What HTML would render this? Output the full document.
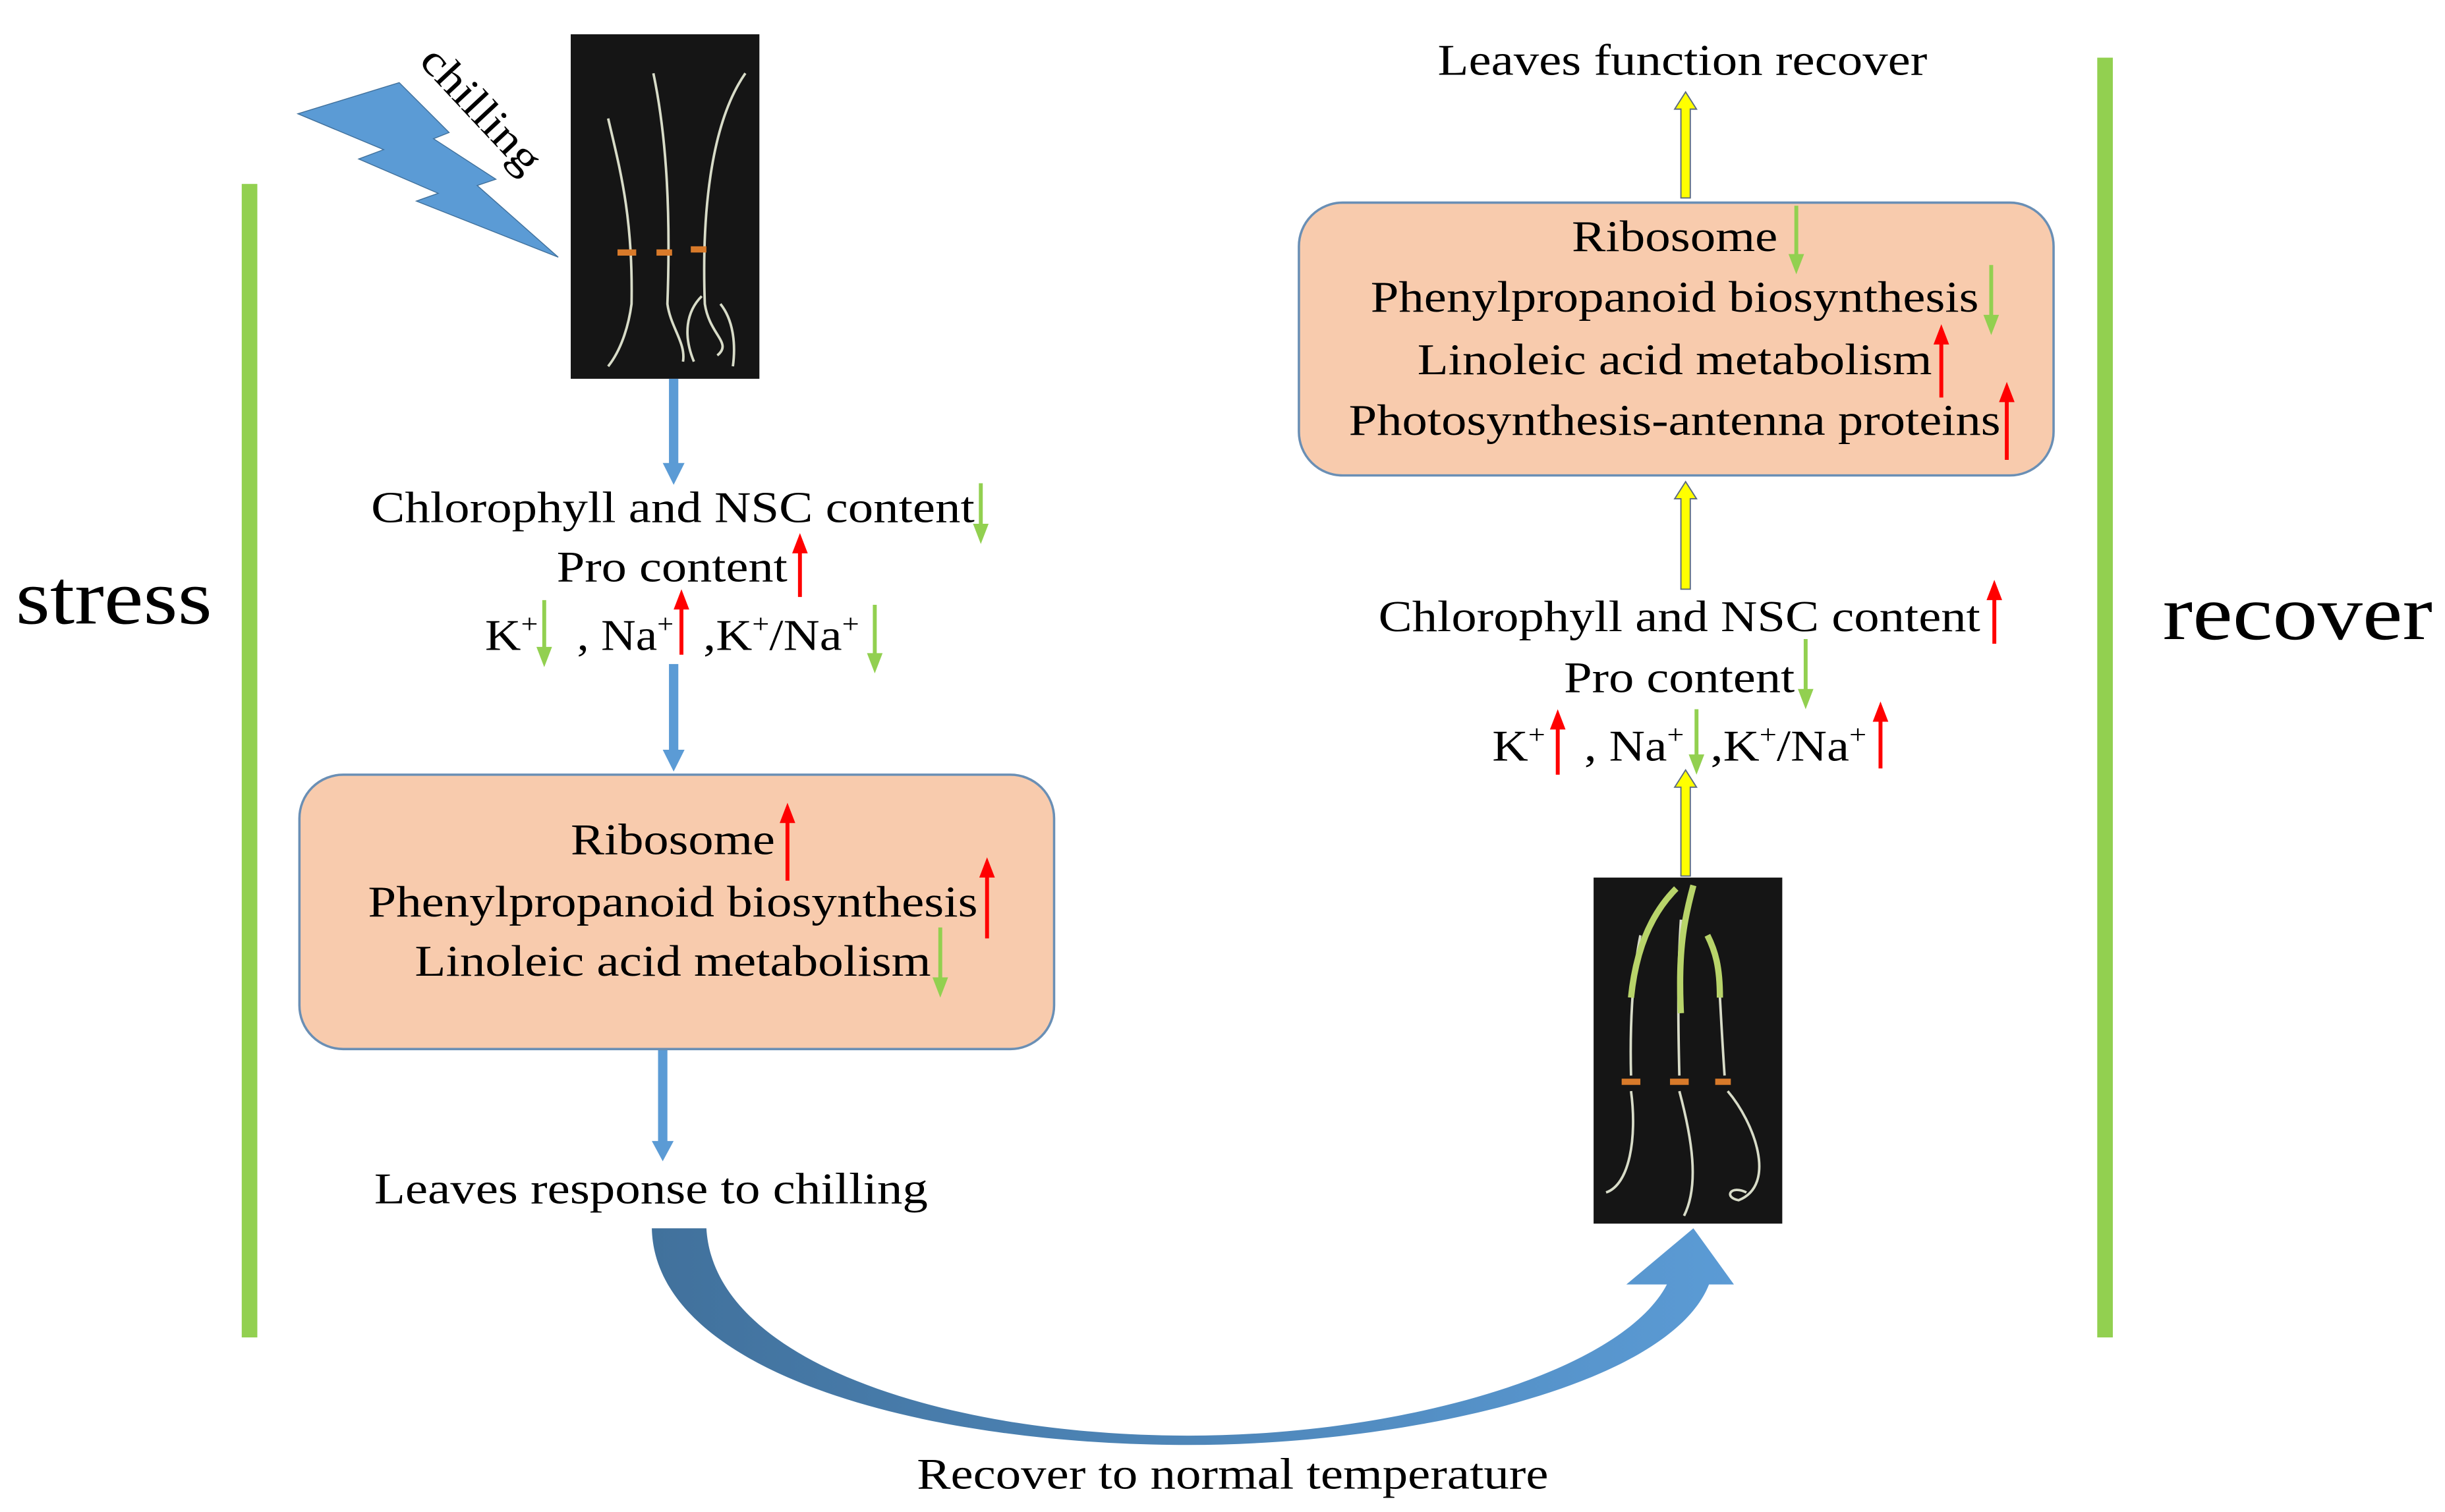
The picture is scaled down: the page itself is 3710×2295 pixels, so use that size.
<!DOCTYPE html>
<html><head><meta charset="utf-8"><style>
html,body{margin:0;padding:0;background:#fff;}
svg{display:block;}
text{font-family:"Liberation Serif",serif;fill:#000;}
</style></head><body>
<svg width="3710" height="2295" viewBox="0 0 1568 970" xmlns="http://www.w3.org/2000/svg">
<defs>
<linearGradient id="bg" x1="0" y1="0" x2="1" y2="0">
<stop offset="0" stop-color="#41719c"/><stop offset="1" stop-color="#5b9bd5"/>
</linearGradient>
</defs>
<rect width="1568" height="970" fill="#fff"/>

<rect x="155" y="118" width="10" height="740" fill="#92d050"/>
<rect x="1345" y="37" width="10" height="821" fill="#92d050"/>
<text x="10" y="400" font-size="50" textLength="126" lengthAdjust="spacingAndGlyphs">stress</text>
<text x="1387" y="410" font-size="50" textLength="173" lengthAdjust="spacingAndGlyphs">recover</text>

<polygon points="191,73 256,53 288,85 278,89 318,115 306,119 358,165 267,129 281,124 230,102 246,96" fill="#5b9bd5" stroke="#41719c" stroke-width="0.6"/>
<text x="0" y="0" font-size="28" transform="translate(268,40) rotate(47)" textLength="100" lengthAdjust="spacingAndGlyphs">chilling</text>

<rect x="366" y="22" width="121" height="221" fill="#151515"/>
<g fill="none" stroke="#d8dcc8" stroke-width="1.6">
<path d="M390,76 C398,110 406,140 405,195 C403,210 398,225 390,235"/>
<path d="M419,47 C428,90 430,140 428,195 C430,210 440,220 438,232"/>
<path d="M478,47 C455,80 450,140 452,195 C455,215 470,220 460,228"/>
<path d="M450,190 C440,200 438,215 445,232"/>
<path d="M462,195 C470,205 472,220 470,235"/>
</g>
<g fill="#d87a2a"><rect x="396" y="160" width="12" height="4"/><rect x="421" y="160" width="10" height="4"/><rect x="443" y="158" width="10" height="4"/></g>

<rect x="1022" y="563" width="121" height="222" fill="#151515"/>
<g fill="none" stroke="#d8dcc8" stroke-width="1.6">
<path d="M1046,690 C1045,650 1048,620 1052,600"/>
<path d="M1077,690 C1076,650 1076,620 1078,590"/>
<path d="M1106,690 C1104,660 1103,640 1102,620"/>
<path d="M1046,700 C1050,730 1045,760 1030,765"/>
<path d="M1077,700 C1085,730 1090,760 1080,780"/>
<path d="M1108,700 C1125,720 1140,760 1115,770 C1105,768 1110,760 1120,765"/>
</g>
<g fill="none" stroke="#b8d46a" stroke-width="4">
<path d="M1046,640 C1050,600 1065,580 1075,570"/>
<path d="M1078,650 C1076,610 1080,590 1086,568"/>
<path d="M1103,640 C1103,620 1100,610 1095,600"/>
</g>
<g fill="#d87a2a"><rect x="1040" y="692" width="12" height="4"/><rect x="1071" y="692" width="12" height="4"/><rect x="1100" y="692" width="10" height="4"/></g>

<rect x="429" y="243" width="6" height="55" fill="#5b9bd5"/>
<polygon points="425,297 439,297 432,311" fill="#5b9bd5"/>
<rect x="429" y="426" width="6" height="56" fill="#5b9bd5"/>
<polygon points="425,481 439,481 432,495" fill="#5b9bd5"/>
<rect x="422" y="673" width="6" height="60" fill="#5b9bd5"/>
<polygon points="418,732 432,732 425,745" fill="#5b9bd5"/>

<rect x="192" y="497" width="484" height="176" rx="28" fill="#f8cbad" stroke="#6a8fb5" stroke-width="1.5"/>
<rect x="833" y="130" width="484" height="175" rx="28" fill="#f8cbad" stroke="#6a8fb5" stroke-width="1.5"/>

<g fill="#ffff00" stroke="#5a6a80" stroke-width="0.8">
<polygon points="1078,562 1078,505 1074,505 1081,494 1088,505 1084,505 1084,562"/>
<polygon points="1078,378 1078,320 1074,320 1081,309 1088,320 1084,320 1084,378"/>
<polygon points="1078,127 1078,70 1074,70 1081,59 1088,70 1084,70 1084,127"/>
</g>

<path d="M418,788 L453,788 C458,875 610,921 762,921 C900,921 1040,880 1069,824 L1043,824 L1086,788 L1112,824 L1096,824 C1070,890 900,927 762,927 C590,927 420,880 418,788 Z" fill="url(#bg)"/>

<g font-size="28">
<text x="238" y="335" textLength="387" lengthAdjust="spacingAndGlyphs">Chlorophyll and NSC content</text>
<text x="357" y="373" textLength="148" lengthAdjust="spacingAndGlyphs">Pro content</text>
<text x="311" y="417" textLength="34" lengthAdjust="spacingAndGlyphs">K<tspan font-size="17" dy="-11">+</tspan></text>
<text x="370" y="417" textLength="62" lengthAdjust="spacingAndGlyphs">, Na<tspan font-size="17" dy="-11">+</tspan></text>
<text x="451" y="417" textLength="100" lengthAdjust="spacingAndGlyphs">,K<tspan font-size="17" dy="-11">+</tspan><tspan dy="11">/Na</tspan><tspan font-size="17" dy="-11">+</tspan></text>
<text x="366" y="548" textLength="131" lengthAdjust="spacingAndGlyphs">Ribosome</text>
<text x="236" y="588" textLength="391" lengthAdjust="spacingAndGlyphs">Phenylpropanoid biosynthesis</text>
<text x="266" y="626" textLength="331" lengthAdjust="spacingAndGlyphs">Linoleic acid metabolism</text>
<text x="240" y="772" textLength="355" lengthAdjust="spacingAndGlyphs">Leaves response to chilling</text>
<text x="588" y="955" textLength="405" lengthAdjust="spacingAndGlyphs">Recover to normal temperature</text>
<text x="922" y="48" textLength="314" lengthAdjust="spacingAndGlyphs">Leaves function recover</text>
<text x="1008" y="161" textLength="132" lengthAdjust="spacingAndGlyphs">Ribosome</text>
<text x="879" y="200" textLength="390" lengthAdjust="spacingAndGlyphs">Phenylpropanoid biosynthesis</text>
<text x="909" y="240" textLength="330" lengthAdjust="spacingAndGlyphs">Linoleic acid metabolism</text>
<text x="865" y="279" textLength="418" lengthAdjust="spacingAndGlyphs">Photosynthesis-antenna proteins</text>
<text x="884" y="405" textLength="386" lengthAdjust="spacingAndGlyphs">Chlorophyll and NSC content</text>
<text x="1003" y="444" textLength="148" lengthAdjust="spacingAndGlyphs">Pro content</text>
<text x="957" y="488" textLength="34" lengthAdjust="spacingAndGlyphs">K<tspan font-size="17" dy="-11">+</tspan></text>
<text x="1016" y="488" textLength="64" lengthAdjust="spacingAndGlyphs">, Na<tspan font-size="17" dy="-11">+</tspan></text>
<text x="1097" y="488" textLength="100" lengthAdjust="spacingAndGlyphs">,K<tspan font-size="17" dy="-11">+</tspan><tspan dy="11">/Na</tspan><tspan font-size="17" dy="-11">+</tspan></text>
</g>

<g stroke="#92d050" stroke-width="2.5" fill="#92d050">
<line x1="629" y1="310" x2="629" y2="337"/><polygon stroke="none" points="624,336 634,336 629,349"/>
<line x1="349" y1="385" x2="349" y2="416"/><polygon stroke="none" points="344,415 354,415 349,428"/>
<line x1="561" y1="388" x2="561" y2="420"/><polygon stroke="none" points="556,419 566,419 561,432"/>
<line x1="603" y1="595" x2="603" y2="628"/><polygon stroke="none" points="598,627 608,627 603,640"/>
<line x1="1152" y1="132" x2="1152" y2="164"/><polygon stroke="none" points="1147,163 1157,163 1152,176"/>
<line x1="1277" y1="170" x2="1277" y2="203"/><polygon stroke="none" points="1272,202 1282,202 1277,215"/>
<line x1="1158" y1="410" x2="1158" y2="443"/><polygon stroke="none" points="1153,442 1163,442 1158,455"/>
<line x1="1088" y1="455" x2="1088" y2="485"/><polygon stroke="none" points="1083,484 1093,484 1088,497"/>
</g>
<g stroke="#ff0000" stroke-width="2.5" fill="#ff0000">
<line x1="513" y1="354" x2="513" y2="383"/><polygon stroke="none" points="508,355 518,355 513,342"/>
<line x1="437" y1="390" x2="437" y2="420"/><polygon stroke="none" points="432,391 442,391 437,378"/>
<line x1="505" y1="527" x2="505" y2="565"/><polygon stroke="none" points="500,528 510,528 505,515"/>
<line x1="633" y1="562" x2="633" y2="602"/><polygon stroke="none" points="628,563 638,563 633,550"/>
<line x1="1245" y1="220" x2="1245" y2="255"/><polygon stroke="none" points="1240,221 1250,221 1245,208"/>
<line x1="1287" y1="257" x2="1287" y2="295"/><polygon stroke="none" points="1282,258 1292,258 1287,245"/>
<line x1="1279" y1="384" x2="1279" y2="413"/><polygon stroke="none" points="1274,385 1284,385 1279,372"/>
<line x1="999" y1="467" x2="999" y2="497"/><polygon stroke="none" points="994,468 1004,468 999,455"/>
<line x1="1206" y1="462" x2="1206" y2="493"/><polygon stroke="none" points="1201,463 1211,463 1206,450"/>
</g>
</svg>
</body></html>
